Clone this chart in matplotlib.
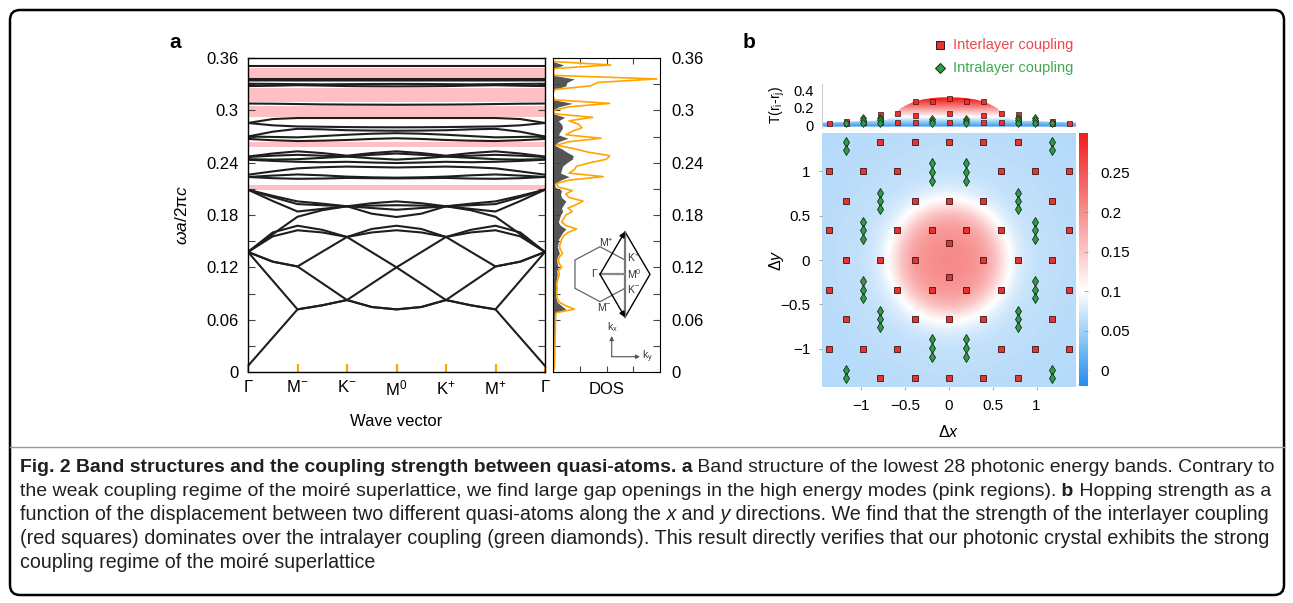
import numpy as np
import matplotlib
matplotlib.use("Agg")
import matplotlib.pyplot as plt
from matplotlib.colors import LinearSegmentedColormap, Normalize
from matplotlib.patches import FancyBboxPatch, Polygon

plt.rcParams['font.family'] = ['Liberation Sans', 'DejaVu Sans']
plt.rcParams['mathtext.fontset'] = 'custom'
plt.rcParams['mathtext.rm'] = 'Liberation Sans'
plt.rcParams['mathtext.it'] = 'Liberation Sans:italic'
plt.rcParams['mathtext.bf'] = 'Liberation Sans:bold'

# ---------------- data: panel a (band structure) ----------------
k_labels = [r'$\Gamma$', r'M$^{-}$', r'K$^{-}$', r'M$^{0}$', r'K$^{+}$', r'M$^{+}$', r'$\Gamma$']
k_path = np.arange(13) * 0.5   # Γ, mid, M-, mid, K-, mid, M0, ... Γ

bands_low = [
    [0.0070, 0.0394, 0.0718, 0.0765, 0.0825, 0.1013, 0.1200, 0.1374, 0.1548, 0.1379, 0.1210, 0.1265, 0.1376],
    [0.1376, 0.1265, 0.1210, 0.1379, 0.1548, 0.1374, 0.1200, 0.1013, 0.0825, 0.0765, 0.0718, 0.0394, 0.0070],
    [0.1376, 0.1047, 0.0718, 0.0765, 0.0825, 0.0745, 0.0718, 0.0745, 0.0825, 0.0765, 0.0718, 0.1047, 0.1376],
    [0.1376, 0.1265, 0.1210, 0.1018, 0.0825, 0.0745, 0.0718, 0.0745, 0.0825, 0.1018, 0.1210, 0.1265, 0.1376],
    [0.1376, 0.1600, 0.1677, 0.1630, 0.1548, 0.1640, 0.1677, 0.1640, 0.1548, 0.1630, 0.1677, 0.1600, 0.1376],
    [0.1376, 0.1555, 0.1625, 0.1600, 0.1548, 0.1600, 0.1625, 0.1600, 0.1548, 0.1600, 0.1625, 0.1555, 0.1376],
    [0.1376, 0.1580, 0.1780, 0.1855, 0.1900, 0.1815, 0.1777, 0.1815, 0.1900, 0.1855, 0.1780, 0.1580, 0.1376],
    [0.2090, 0.1960, 0.1840, 0.1870, 0.1900, 0.1880, 0.1860, 0.1880, 0.1900, 0.1870, 0.1840, 0.1960, 0.2090],
    [0.2090, 0.2020, 0.1956, 0.1930, 0.1900, 0.1935, 0.1956, 0.1935, 0.1900, 0.1930, 0.1956, 0.2020, 0.2090],
    [0.2090, 0.2005, 0.1925, 0.1912, 0.1900, 0.1908, 0.1912, 0.1908, 0.1900, 0.1912, 0.1925, 0.2005, 0.2090],
]
bands_mid = [
    [0.2262, 0.2300, 0.2335, 0.2348, 0.2355, 0.2350, 0.2345, 0.2350, 0.2355, 0.2348, 0.2335, 0.2300, 0.2262],
    [0.2236, 0.2252, 0.2265, 0.2255, 0.2240, 0.2232, 0.2228, 0.2232, 0.2240, 0.2255, 0.2265, 0.2252, 0.2236],
    [0.2236, 0.2222, 0.2215, 0.2218, 0.2225, 0.2222, 0.2220, 0.2222, 0.2225, 0.2218, 0.2215, 0.2222, 0.2236],
    [0.2470, 0.2505, 0.2530, 0.2510, 0.2480, 0.2510, 0.2530, 0.2510, 0.2480, 0.2510, 0.2530, 0.2505, 0.2470],
    [0.2465, 0.2480, 0.2490, 0.2480, 0.2470, 0.2490, 0.2505, 0.2490, 0.2470, 0.2480, 0.2490, 0.2480, 0.2465],
    [0.2440, 0.2435, 0.2440, 0.2455, 0.2470, 0.2450, 0.2435, 0.2450, 0.2470, 0.2455, 0.2440, 0.2435, 0.2440],
    [0.2434, 0.2420, 0.2410, 0.2405, 0.2410, 0.2402, 0.2396, 0.2402, 0.2410, 0.2405, 0.2410, 0.2420, 0.2434],
]
bands_high = [
    [0.2672, 0.2657, 0.2648, 0.2652, 0.2660, 0.2672, 0.2680, 0.2672, 0.2660, 0.2652, 0.2648, 0.2657, 0.2672],
    [0.2700, 0.2695, 0.2690, 0.2705, 0.2720, 0.2732, 0.2738, 0.2732, 0.2720, 0.2705, 0.2690, 0.2695, 0.2700],
    [0.2700, 0.2755, 0.2788, 0.2782, 0.2772, 0.2768, 0.2766, 0.2768, 0.2772, 0.2782, 0.2788, 0.2755, 0.2700],
    [0.2855, 0.2828, 0.2815, 0.2812, 0.2808, 0.2806, 0.2805, 0.2806, 0.2808, 0.2812, 0.2815, 0.2828, 0.2855],
    [0.2855, 0.2900, 0.2912, 0.2912, 0.2912, 0.2912, 0.2912, 0.2912, 0.2912, 0.2912, 0.2912, 0.2900, 0.2855],
    [0.3078, 0.3076, 0.3072, 0.3068, 0.3066, 0.3065, 0.3064, 0.3065, 0.3066, 0.3068, 0.3072, 0.3076, 0.3078],
    [0.3278, 0.3282, 0.3288, 0.3284, 0.3278, 0.3276, 0.3275, 0.3276, 0.3278, 0.3284, 0.3288, 0.3282, 0.3278],
    [0.3305, 0.3303, 0.3300, 0.3298, 0.3300, 0.3302, 0.3303, 0.3302, 0.3300, 0.3298, 0.3300, 0.3303, 0.3305],
    [0.3343, 0.3343, 0.3342, 0.3342, 0.3342, 0.3342, 0.3342, 0.3342, 0.3342, 0.3342, 0.3342, 0.3343, 0.3343],
    [0.3362, 0.3362, 0.3362, 0.3362, 0.3362, 0.3362, 0.3362, 0.3362, 0.3362, 0.3362, 0.3362, 0.3362, 0.3362],
    [0.3504, 0.3504, 0.3504, 0.3504, 0.3504, 0.3504, 0.3504, 0.3504, 0.3504, 0.3504, 0.3504, 0.3504, 0.3504],
]

# band gaps (pink)
gap_lo = [0.3370, 0.3096, 0.2924, 0.2580, 0.2090]
gap_hi = [0.3485, 0.3256, 0.3045, 0.2637, 0.2144]

# density of states, sampled every 0.004 from 0 to 0.36
dos_freq = np.arange(91) * 0.004
dos_orange = [0.0, 0.012, 0.014, 0.015, 0.016, 0.017, 0.018, 0.018, 0.019, 0.02, 0.02, 0.021, 0.022, 0.022, 0.023, 0.024, 0.025, 0.03,
              0.20, 0.12, 0.06,
              0.04, 0.035, 0.035, 0.04, 0.035, 0.04,
              0.05, 0.06, 0.05, 0.08, 0.06, 0.05, 0.06,
              0.09, 0.07, 0.06, 0.07, 0.08, 0.10, 0.14,
              0.22, 0.12, 0.08, 0.10, 0.12, 0.18, 0.14,
              0.22, 0.28, 0.15, 0.12, 0.18, 0.05, 0.03,
              0.15, 0.47, 0.15, 0.20, 0.22, 0.35, 0.50,
              0.53, 0.33, 0.20, 0.03, 0.15, 0.45, 0.12,
              0.18, 0.27, 0.24, 0.15, 0.37, 0.02, 0.0,
              0.15, 0.53, 0.02, 0.0, 0.0, 0.02, 0.35,
              0.42, 0.97, 0.02, 0.0, 0.02, 0.54, 0.0, 0.0]
dos_gray = [0.0, 0.008, 0.01, 0.01, 0.011, 0.011, 0.012, 0.012, 0.013, 0.013, 0.014, 0.014, 0.015, 0.015, 0.016, 0.016, 0.017, 0.02,
            0.12, 0.08, 0.04,
            0.03, 0.025, 0.025, 0.03, 0.025, 0.03,
            0.035, 0.04, 0.035, 0.05, 0.04, 0.035, 0.04,
            0.06, 0.05, 0.04, 0.05, 0.05, 0.07, 0.09,
            0.12, 0.07, 0.05, 0.06, 0.07, 0.09, 0.08,
            0.10, 0.12, 0.08, 0.07, 0.08, 0.02, 0.015,
            0.07, 0.15, 0.07, 0.08, 0.09, 0.13, 0.18,
            0.19, 0.13, 0.08, 0.015, 0.05, 0.14, 0.05,
            0.07, 0.09, 0.08, 0.05, 0.11, 0.01, 0.0,
            0.05, 0.18, 0.01, 0.0, 0.0, 0.01, 0.12,
            0.13, 0.20, 0.01, 0.0, 0.01, 0.10, 0.0, 0.0]

# ---------------- data: panel b (coupling strength) ----------------
# radial profile of the hopping map
heat_r = [0, 0.2, 0.35, 0.45, 0.55, 0.62, 0.7, 0.8, 0.9, 1.0, 1.2, 1.5, 2.1]
heat_t = [0.205, 0.2, 0.19, 0.175, 0.15, 0.125, 0.1, 0.083, 0.074, 0.069, 0.066, 0.063, 0.06]

# side-view envelope of T along x
env_x = [-1.45, -1.2, -1.0, -0.85, -0.75, -0.7, -0.65, -0.6, -0.55, -0.5, -0.4, -0.3, -0.2, -0.1, 0.0,
         0.1, 0.2, 0.3, 0.4, 0.5, 0.55, 0.6, 0.65, 0.7, 0.75, 0.85, 1.0, 1.2, 1.45]
env_t = [0.035, 0.042, 0.05, 0.055, 0.058, 0.07, 0.11, 0.155, 0.195, 0.225, 0.27, 0.295, 0.31, 0.318, 0.32,
         0.318, 0.31, 0.295, 0.27, 0.225, 0.195, 0.155, 0.11, 0.07, 0.058, 0.055, 0.05, 0.042, 0.035]

# interlayer (squares) positions
sq_x = [-0.785, -0.39, 0, 0.39, 0.785,
        -1.37, -0.98, -0.59, 0.59, 0.98, 1.37,
        -1.18, -0.39, 0, 0.39, 1.18,
        -1.37, -0.59, -0.195, 0.195, 0.59, 1.37,
        0,
        -1.18, -0.785, -0.39, 0.39, 0.785, 1.18,
        0,
        -1.37, -0.59, -0.195, 0.195, 0.59, 1.37,
        -1.18, -0.39, 0, 0.39, 1.18,
        -1.37, -0.98, -0.59, 0.59, 0.98, 1.37,
        -0.785, -0.39, 0, 0.39, 0.785]
sq_y = [1.33] * 5 + [1.0] * 6 + [0.665] * 5 + [0.335] * 6 + [0.19] + [0.0] * 6 + [-0.19] + \
       [-0.335] * 6 + [-0.665] * 5 + [-1.0] * 6 + [-1.33] * 5

# intralayer (diamonds) positions
di_x = [-1.18, -1.18, 1.18, 1.18,
        -0.195, -0.195, -0.195, 0.195, 0.195, 0.195,
        -0.785, -0.785, -0.785, 0.785, 0.785, 0.785,
        -0.98, -0.98, -0.98, 0.98, 0.98, 0.98,
        -0.98, -0.98, -0.98, 0.98, 0.98, 0.98,
        -0.785, -0.785, -0.785, 0.785, 0.785, 0.785,
        -0.195, -0.195, -0.195, 0.195, 0.195, 0.195,
        -1.18, -1.18, 1.18, 1.18]
di_y = [1.33, 1.235, 1.33, 1.235,
        1.09, 0.99, 0.895, 1.09, 0.99, 0.895,
        0.76, 0.665, 0.57, 0.76, 0.665, 0.57,
        0.43, 0.335, 0.24, 0.43, 0.335, 0.24,
        -0.24, -0.335, -0.43, -0.24, -0.335, -0.43,
        -0.57, -0.665, -0.76, -0.57, -0.665, -0.76,
        -0.895, -0.99, -1.09, -0.895, -0.99, -1.09,
        -1.235, -1.33, -1.235, -1.33]

# T values in the side view
top_sq_x = [-1.37, -1.18, -1.18, -0.98, -0.785, -0.785, -0.785, -0.59, -0.59, -0.39, -0.39, -0.39, -0.195,
            0, 0, 0, 0.195, 0.39, 0.39, 0.39, 0.59, 0.59, 0.785, 0.785, 0.785, 0.98, 1.18, 1.18, 1.37]
top_sq_t = [0.03, 0.05, 0.03, 0.045, 0.125, 0.07, 0.035, 0.14, 0.035, 0.275, 0.115, 0.035, 0.275,
            0.31, 0.145, 0.035, 0.275, 0.275, 0.115, 0.035, 0.14, 0.035, 0.125, 0.07, 0.035, 0.045, 0.05, 0.03, 0.03]
top_di_x = [-1.18, -0.98, -0.98, -0.98, -0.785, -0.785, -0.785, -0.195, -0.195, -0.195,
            0.195, 0.195, 0.195, 0.785, 0.785, 0.785, 0.98, 0.98, 0.98, 1.18]
top_di_t = [0.03, 0.085, 0.06, 0.03, 0.085, 0.06, 0.03, 0.075, 0.055, 0.03,
            0.075, 0.055, 0.03, 0.085, 0.06, 0.03, 0.085, 0.06, 0.03, 0.03]

cb_ticks = [0, 0.05, 0.1, 0.15, 0.2, 0.25]
axis_ticks = [-1, -0.5, 0, 0.5, 1]

# ---------------- figure ----------------
W, H = 1293, 603
fig = plt.figure(figsize=(W / 100, H / 100), dpi=100)


def px_box(x0, y0, x1, y1):
    return [x0 / W, 1 - y1 / H, (x1 - x0) / W, (y1 - y0) / H]


def ptxt(x, y, s, **kw):
    return fig.text(x / W, 1 - y / H, s, **kw)


# ---- panel a: bands ----
ax = fig.add_axes(px_box(248, 58, 545, 372))
for lo, hi in zip(gap_lo, gap_hi):
    ax.axhspan(lo, hi, color='#ffc0c5', lw=0, zorder=0)
for b in bands_low + bands_mid + bands_high:
    ax.plot(k_path, b, color='#1e1e1e', lw=1.5, solid_capstyle='round', zorder=2)
ax.set_xlim(0, 6)
ax.set_ylim(0, 0.36)
ax.set_xticks(range(7))
ax.set_xticklabels(k_labels, fontsize=12)
ax.set_yticks([0, 0.06, 0.12, 0.18, 0.24, 0.3, 0.36])
ax.set_yticklabels(['0', '0.06', '0.12', '0.18', '0.24', '0.3', '0.36'], fontsize=12)
ax.set_yticks([0.03, 0.09, 0.15, 0.21, 0.27, 0.33], minor=True)
ax.tick_params(axis='y', which='both', direction='in', left=True, right=True,
               length=5, width=0.8, color='#444444', pad=7)
ax.tick_params(axis='x', direction='in', length=6, width=1.6, color='#ffa500', pad=5)
for s in ax.spines.values():
    s.set_linewidth(1.0)

ptxt(396, 421, 'Wave vector', fontsize=12, ha='center', va='center')
ptxt(182, 215, r'$\omega a/2\mathrm{\pi} c$', fontsize=12.5, ha='center', va='center', rotation=90)

# ---- panel a: DOS ----
ad = fig.add_axes(px_box(553, 58, 660, 372))
ad.plot(dos_orange, dos_freq, color='#ffa500', lw=1.2)
ad.fill_betweenx(dos_freq, 0, dos_gray, color='#555555', lw=0)
ad.set_xlim(0, 1)
ad.set_ylim(0, 0.36)
ad.set_xticks([0.25, 0.5, 0.75])
ad.set_xticklabels([])
ad.tick_params(axis='x', direction='in', top=True, bottom=True, length=4, width=0.8, color='#444444')
ad.set_yticks([0, 0.06, 0.12, 0.18, 0.24, 0.3, 0.36])
ad.set_yticklabels(['0', '0.06', '0.12', '0.18', '0.24', '0.3', '0.36'], fontsize=12)
ad.set_yticks([0.03, 0.09, 0.15, 0.21, 0.27, 0.33], minor=True)
ad.tick_params(axis='y', which='both', direction='in', left=True, right=True,
               labelleft=False, labelright=True, length=5, width=0.8, color='#444444', pad=8)
ptxt(607, 390, 'DOS', fontsize=12, ha='center', va='center')

# ---- panel b: colour map ----
cmap = LinearSegmentedColormap.from_list('bwr_b', [(0, '#1f8ff0'), (0.375, '#ffffff'), (1, '#f01f1e')])
norm = Normalize(-0.02, 0.3)

ah = fig.add_axes(px_box(822, 133, 1076, 387))
gx = np.linspace(-1.45, 1.45, 300)
gy = np.linspace(-1.43, 1.43, 300)
GX, GY = np.meshgrid(gx, gy)
field = np.interp(np.hypot(GX, GY), heat_r, heat_t)
im = ah.imshow(field, extent=(-1.45, 1.45, -1.43, 1.43), origin='lower', cmap=cmap, norm=norm,
               aspect='auto', interpolation='bilinear')
ah.plot(sq_x, sq_y, 's', ms=4.2, mfc='#e8322d', mec='#3a1515', mew=0.6, ls='none')
ah.plot(di_x, di_y, 'd', ms=5, mfc='#2e9e44', mec='#142a14', mew=0.6, ls='none')
ah.set_xlim(-1.45, 1.45)
ah.set_ylim(-1.43, 1.43)
for s in ah.spines.values():
    s.set_visible(False)
ah.set_xticks(axis_ticks)
ah.set_xticklabels(['\u22121', '\u22120.5', '0', '0.5', '1'], fontsize=11)
ah.set_yticks(axis_ticks)
ah.set_yticklabels(['\u22121', '\u22120.5', '0', '0.5', '1'], fontsize=11)
ah.tick_params(length=2.5, width=0.6, color='#999999', pad=6)
ptxt(949, 432, r'$\Delta x$', fontsize=11.5, ha='center', va='center')
ptxt(777, 260, r'$\Delta y$', fontsize=11.5, ha='center', va='center', rotation=90)

cax = fig.add_axes(px_box(1079, 133, 1088, 386))
cb = fig.colorbar(im, cax=cax)
cb.outline.set_visible(False)
cb.set_ticks(cb_ticks)
cb.set_ticklabels(['0', '0.05', '0.1', '0.15', '0.2', '0.25'])
cax.tick_params(length=3, width=0.5, color='#888888', direction='in', pad=9, labelsize=11)

# ---- panel b: side view of T ----
at = fig.add_axes(px_box(822, 84, 1076, 128))
at.patch.set_alpha(0)
grad_t = np.linspace(-0.012, 0.33, 200)
grad = np.tile(grad_t[:, None], (1, 10))
im2 = at.imshow(grad, extent=(-1.45, 1.45, -0.012, 0.33), origin='lower', cmap=cmap, norm=norm, aspect='auto')
env_poly = Polygon(np.column_stack([env_x + [1.45, -1.45], env_t + [-0.012, -0.012]]),
                   closed=True, fc='none', ec='none')
at.add_patch(env_poly)
im2.set_clip_path(env_poly)
at.plot(top_sq_x, top_sq_t, 's', ms=3.6, mfc='#e8322d', mec='#3a1515', mew=0.5, ls='none')
at.plot(top_di_x, top_di_t, 'd', ms=4.5, mfc='#2e9e44', mec='#142a14', mew=0.5, ls='none')
at.set_xlim(-1.45, 1.45)
at.set_ylim(-0.028, 0.47)
for k in ['top', 'right', 'bottom']:
    at.spines[k].set_visible(False)
at.spines['left'].set_color('#d0d0d0')
at.set_xticks([])
at.set_yticks([0, 0.2, 0.4])
at.set_yticklabels(['0', '0.2', '0.4'], fontsize=10.5)
at.tick_params(length=0, pad=6)
ptxt(777, 105, r'T(r$_\mathrm{i}$-r$_\mathrm{j}$)', fontsize=10, ha='center', va='center', rotation=90)

# ---- decorations in pixel space ----
ov = fig.add_axes([0, 0, 1, 1], zorder=20)
ov.set_xlim(0, W)
ov.set_ylim(H, 0)
ov.set_axis_off()

ov.add_patch(FancyBboxPatch((10, 10), 1274, 585, boxstyle='round,pad=0,rounding_size=10',
                            fc='none', ec='black', lw=1.8))
ov.plot([10, 1284], [447, 447], color='#9a9a9a', lw=1)

ov.text(175, 42, 'a', fontsize=15, fontweight='bold', ha='center', va='center')
ov.text(749, 42, 'b', fontsize=15, fontweight='bold', ha='center', va='center')

# legend of panel b
ov.plot([940], [45], 's', ms=6, mfc='#e8322d', mec='#3a1515', mew=0.7)
ov.text(953, 45, 'Interlayer coupling', fontsize=10.5, color='#f0464b', va='center')
ov.plot([940], [68], 'D', ms=5.5, mfc='#2e9e44', mec='#142a14', mew=0.7)
ov.text(953, 68, 'Intralayer coupling', fontsize=10.5, color='#3daa4e', va='center')

# Brillouin zone sketch
hexagon = [(575, 260), (600, 246.7), (625, 260), (625, 288.3), (600, 301.7), (575, 288.3)]
ov.add_patch(Polygon(hexagon, closed=True, fc='none', ec='#666666', lw=0.9))
ov.plot([625, 650, 625], [231.7, 274.3, 317.3], color='black', lw=1.0)
ov.plot([625, 625], [231.7, 317.3], color='#777777', lw=1.6)
ov.plot([600, 625], [274.3, 274.3], color='#888888', lw=1.6)
arrow_kw = dict(arrowstyle='-|>', color='black', lw=1.0, mutation_scale=8, shrinkA=0, shrinkB=0)
ov.annotate('', xy=(625, 231.7), xytext=(600, 274.3), arrowprops=arrow_kw)
ov.annotate('', xy=(625, 317.3), xytext=(600, 274.3), arrowprops=arrow_kw)
bz_kw = dict(fontsize=7.5, color='#333333', va='center')
ov.text(606, 243, r'M$^{+}$', ha='center', **bz_kw)
ov.text(627, 258, r'K$^{+}$', ha='left', **bz_kw)
ov.text(598, 273, r'$\Gamma$', ha='right', **bz_kw)
ov.text(627, 274, r'M$^{0}$', ha='left', **bz_kw)
ov.text(627, 289, r'K$^{-}$', ha='left', **bz_kw)
ov.text(604, 307, r'M$^{-}$', ha='center', **bz_kw)
axis_kw = dict(arrowstyle='-|>', color='#555555', lw=0.8, mutation_scale=6, shrinkA=0, shrinkB=0)
ov.annotate('', xy=(611.7, 336), xytext=(611.7, 356.7), arrowprops=axis_kw)
ov.annotate('', xy=(640, 356.7), xytext=(611.7, 356.7), arrowprops=axis_kw)
ov.text(612, 327, r'k$_\mathrm{x}$', ha='center', **bz_kw)
ov.text(642, 357, r'k$_\mathrm{y}$', ha='left', **bz_kw)

# ---- caption ----
cap_lines = [
    [('Fig. 2 Band structures and the coupling strength between quasi-atoms. a', 'bold', 'normal'),
     (' Band structure of the lowest 28 photonic energy bands. Contrary to', 'normal', 'normal')],
    [('the weak coupling regime of the moiré superlattice, we find large gap openings in the high energy modes (pink regions).',
      'normal', 'normal'),
     (' b', 'bold', 'normal'), (' Hopping strength as a', 'normal', 'normal')],
    [('function of the displacement between two different quasi-atoms along the', 'normal', 'normal'),
     (' x', 'normal', 'italic'), (' and', 'normal', 'normal'), (' y', 'normal', 'italic'),
     (' directions. We find that the strength of the interlayer coupling', 'normal', 'normal')],
    [('(red squares) dominates over the intralayer coupling (green diamonds). This result directly verifies that our photonic crystal exhibits the strong',
      'normal', 'normal')],
    [('coupling regime of the moiré superlattice', 'normal', 'normal')],
]
cap_y = [468, 491.5, 515, 539, 562]
cap_width = [1255, 1250, 1250, 1250]

rend = fig.canvas.get_renderer()


def runs_width(runs, size):
    w = 0
    for s, wt, st in runs:
        t = fig.text(0, 0, s, fontsize=size, fontweight=wt, fontstyle=st)
        w += t.get_window_extent(rend).width
        t.remove()
    return w


sizes = []
for i, runs in enumerate(cap_lines):
    if i < 4:
        size = 12.5 * cap_width[i] / runs_width(runs, 12.5)
        sizes.append(size)
    else:
        size = np.mean(sizes)
    x = 20
    for s, wt, st in runs:
        t = ptxt(x, cap_y[i], s, fontsize=size, fontweight=wt, fontstyle=st, va='center', ha='left',
                 color='#231f20')
        x += t.get_window_extent(rend).width

fig.savefig('out.png', dpi=100)
